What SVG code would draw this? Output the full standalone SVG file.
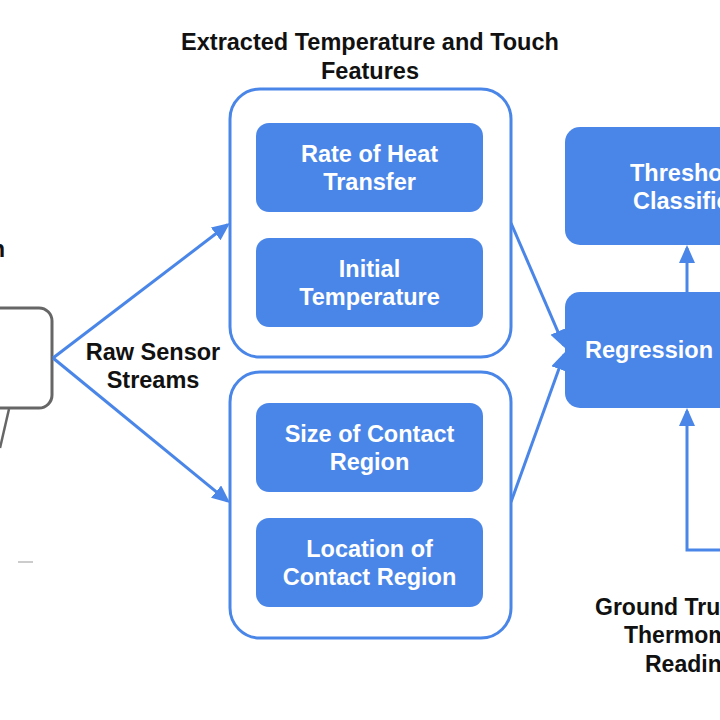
<svg xmlns="http://www.w3.org/2000/svg" width="720" height="720" viewBox="0 0 720 720">
  <defs>
    <marker id="arrow" viewBox="0 0 18 16" refX="15" refY="8" markerWidth="18" markerHeight="16" markerUnits="userSpaceOnUse" orient="auto">
      <path d="M0,0 L18,8 L0,16 z" fill="#4a86e8"/>
    </marker>
    <style>
      .lbl { font-family: "Liberation Sans", Arial, sans-serif; font-weight: bold; font-size: 23.5px; }
      .dark { fill: #111111; }
      .light { fill: #ffffff; text-anchor: middle; }
      .mid { text-anchor: middle; }
      .group { fill: #ffffff; stroke: #4a86e8; stroke-width: 3; }
      .feat { fill: #4a86e8; }
      .model { fill: #4a86e8; }
      .link { fill: none; stroke: #4a86e8; stroke-width: 3; marker-end: url(#arrow); }
    </style>
  </defs>
  <rect width="720" height="720" fill="#ffffff"/>

  <!-- sensor device (left, partly outside the frame) -->
  <g id="sensor">
    <text class="lbl dark" x="5" y="257" text-anchor="end">n</text>
    <rect x="-30" y="308" width="82" height="100" rx="13" fill="#ffffff" stroke="#666666" stroke-width="3"/>
    <line x1="9" y1="409" x2="0" y2="448" stroke="#666666" stroke-width="2.5"/>
    <line x1="18" y1="562" x2="33" y2="562" stroke="#cccccc" stroke-width="2"/>
  </g>

  <!-- connectors -->
  <g id="connectors">
    <line class="link" x1="53" y1="358" x2="227.6" y2="224.8"/>
    <line class="link" x1="53" y1="358" x2="227.7" y2="501.1"/>
    <line class="link" x1="511" y1="223" x2="563.8" y2="345.3"/>
    <line class="link" x1="511" y1="502" x2="564" y2="354.8"/>
    <line class="link" x1="687" y1="292" x2="687" y2="248"/>
    <path class="link" d="M730,550 H687 V411"/>
  </g>

  <g id="raw-label">
    <text class="lbl dark mid" x="153" y="360">Raw Sensor</text>
    <text class="lbl dark mid" x="153" y="388">Streams</text>
  </g>

  <g id="features-title">
    <text class="lbl dark mid" x="370" y="50">Extracted Temperature and Touch</text>
    <text class="lbl dark mid" x="370" y="79">Features</text>
  </g>

  <!-- temperature features -->
  <g id="temperature-group">
    <rect class="group" x="230" y="89" width="281" height="268" rx="30"/>
    <g id="heat-transfer">
      <rect class="feat" x="256" y="123" width="227" height="89" rx="13"/>
      <text class="lbl light" x="369.5" y="162">Rate of Heat</text>
      <text class="lbl light" x="369.5" y="190">Transfer</text>
    </g>
    <g id="initial-temperature">
      <rect class="feat" x="256" y="238" width="227" height="89" rx="13"/>
      <text class="lbl light" x="369.5" y="277">Initial</text>
      <text class="lbl light" x="369.5" y="305">Temperature</text>
    </g>
  </g>

  <!-- touch features -->
  <g id="touch-group">
    <rect class="group" x="230" y="372" width="281" height="266" rx="30"/>
    <g id="contact-size">
      <rect class="feat" x="256" y="403" width="227" height="89" rx="13"/>
      <text class="lbl light" x="369.5" y="442">Size of Contact</text>
      <text class="lbl light" x="369.5" y="470">Region</text>
    </g>
    <g id="contact-location">
      <rect class="feat" x="256" y="518" width="227" height="89" rx="13"/>
      <text class="lbl light" x="369.5" y="557">Location of</text>
      <text class="lbl light" x="369.5" y="585">Contact Region</text>
    </g>
  </g>

  <!-- models (right, partly outside the frame) -->
  <g id="threshold-classifier">
    <rect class="model" x="565" y="127" width="244" height="118" rx="15"/>
    <text class="lbl" fill="#ffffff" x="630" y="181">Threshold</text>
    <text class="lbl" fill="#ffffff" x="633" y="209">Classifier</text>
  </g>
  <g id="regression">
    <rect class="model" x="565" y="292" width="244" height="116" rx="15"/>
    <text class="lbl" fill="#ffffff" x="585" y="358">Regression</text>
  </g>

  <g id="ground-truth">
    <text class="lbl dark" style="font-size:23px" x="595" y="615">Ground Truth</text>
    <text class="lbl dark" style="font-size:23px" x="624" y="643">Thermometer</text>
    <text class="lbl dark" style="font-size:23px" x="645" y="672">Reading</text>
  </g>
</svg>
